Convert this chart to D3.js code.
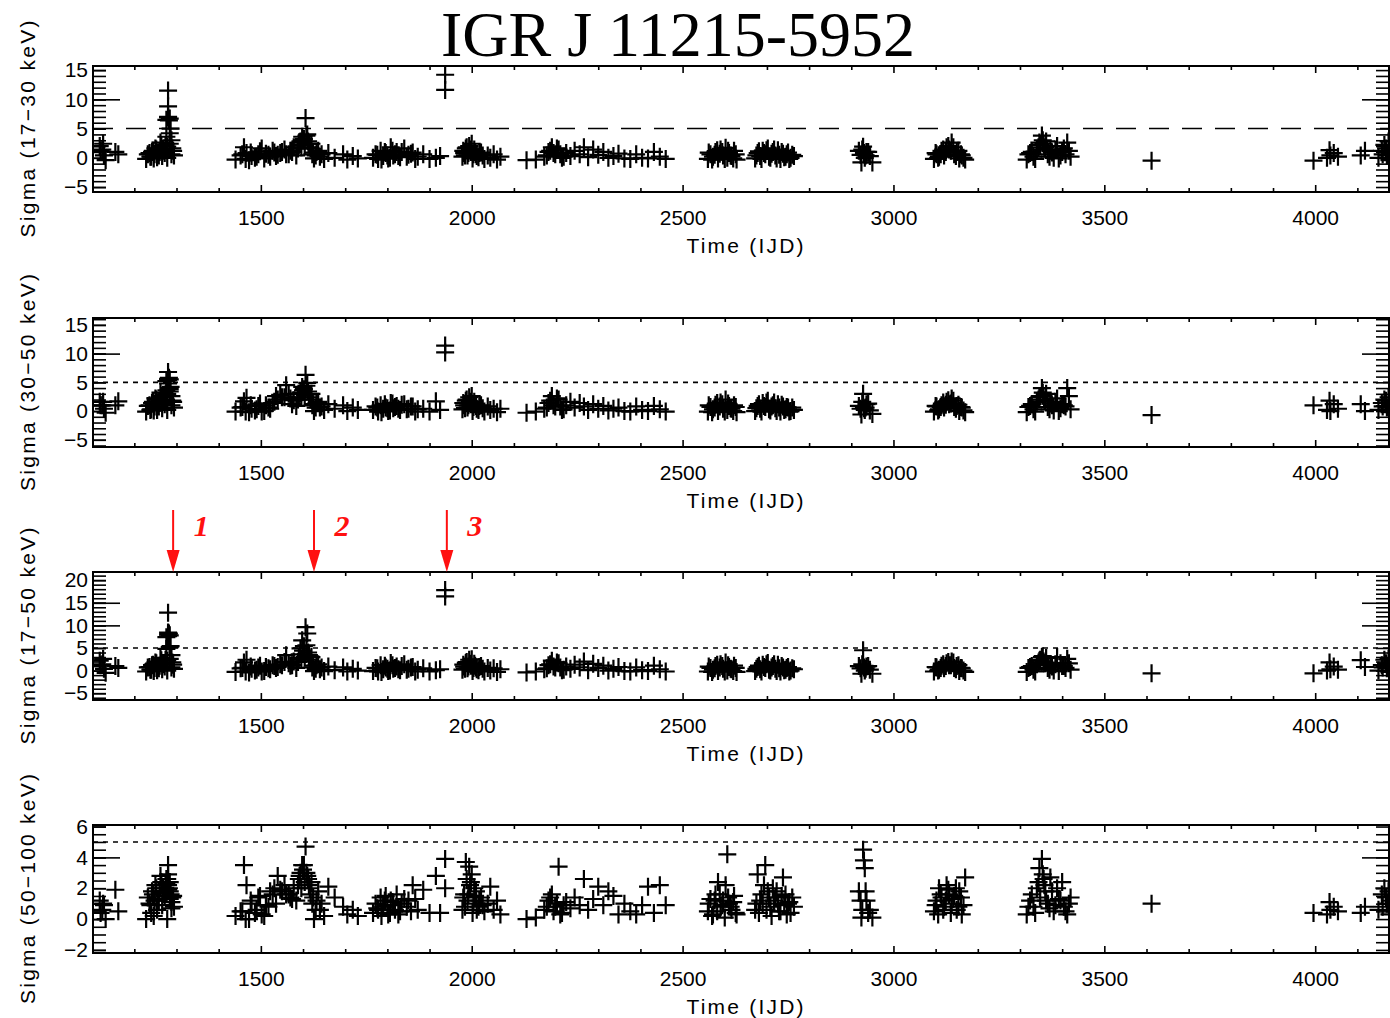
<!DOCTYPE html>
<html>
<head>
<meta charset="utf-8">
<script src="https://cdn.jsdelivr.net/npm/d3@7"></script>
<style>
  body { margin: 0; background: #fff; }
  text { font-family: "Liberation Sans", Arial, sans-serif; }
</style>
</head>
<body>
<svg id="chart" width="1390" height="1018"></svg>
<script>
// ---- data ---------------------------------------------------------------
// observation times (IJD), grouped by visibility window
const ijd = [
  1118,1124,1128,1132,1155,1162,
  1228,1232,1238,1242,1246,1252,1258,1264,1270,1276,1280,1280,1280,1282,1284,1286,1290,1294,1262,1256,1274,1278,
  1440,1452,1460,1466,1472,1478,1486,1494,1502,1512,1522,1532,1540,1550,1560,1570,1578,1584,1590,1594,1598,1602,1606,1610,1614,1618,1622,1626,1632,1640,1650,1660,1675,1695,1705,1718,1730,
  1766,1772,1778,1784,1790,1796,1802,1808,1814,1822,1830,1840,1850,1860,1872,1885,1900,1915,1925,1937,1937,
  1978,1982,1986,1990,1994,1998,2002,2006,2010,2016,2022,2030,2038,2044,2052,2060,2068,
  2130,2152,2172,2182,2190,2198,2206,2214,2224,2234,2244,2256,2266,2276,2288,2300,2312,2324,2336,2348,2362,2376,2390,2404,2418,2432,2446,2460,
  2560,2566,2572,2578,2584,2590,2596,2602,2606,2610,2616,2622,2628,
  2672,2678,2684,2690,2696,2702,2708,2714,2720,2726,2732,2738,2744,2750,2756,2764,
  2918,2924,2928,2930,2932,2936,2944,2950,
  3096,3102,3108,3114,3120,3126,3132,3138,3144,3150,3156,3162,3170,
  3316,3324,3332,3340,3346,3352,3356,3360,3366,3372,3380,3388,3396,3404,3412,3420,
  3612,
  3996,4028,4034,4036,4044,4054,
  4108,4118,4150,4158,4164,4170,4176,4182,
  // further science windows inside the dense groups
  1236,1240,1244,1248,1250,1254,1260,1266,1268,1272,1278,1284,1288,1292,1276,1280,1284,1288,
  1456,1464,1476,1490,1498,1508,1518,1528,1536,1546,1556,1566,1574,1588,1592,1596,1600,1604,1608,1612,1616,1620,1624,1630,1636,1644,
  1776,1786,1794,1800,1806,1812,1818,1826,1834,1846,1856,1866,
  1980,1984,1988,1992,1996,2000,2004,2008,2012,2018,2026,
  2178,2186,2194,2202,2210,2218,
  2562,2570,2576,2582,2588,2594,2600,2608,2614,2620,2626,
  2675,2681,2687,2693,2699,2705,2711,2717,2723,2729,2735,2741,2747,2753,2760,
  3100,3106,3112,3118,3124,3130,3136,3142,3148,3154,3160,3166,
  3320,3328,3336,3344,3348,3354,3358,3362,3370,3376,3384,3392,3400,3408,3416,
  2922,2926,2934,2940,
  4160,4168,4174,
  1120,1126
];

// significance in each band, same order as ijd
const sig17_30 = [
  2.0,1.4,0.4,-0.4,1.0,0.6,
  -0.2,0.6,0.2,1.0,-0.1,1.4,0.4,2.0,1.2,3.6,11.5,8.8,6.9,6.4,6.7,5.0,1.6,0.4,2.6,0.8,2.2,0.0,
  -0.3,0.4,1.8,0.8,-0.4,0.3,0.0,0.6,1.6,0.7,0.2,0.9,0.5,1.0,0.6,1.2,1.8,0.4,2.2,2.8,3.6,3.2,6.8,4.0,2.4,1.6,0.6,-0.1,1.0,0.2,-0.2,0.8,0.0,0.6,-0.3,0.3,-0.1,
  0.0,0.6,-0.2,1.2,0.3,0.8,-0.1,1.8,0.4,1.0,0.1,1.6,0.5,0.9,0.2,0.6,-0.2,0.0,0.3,14.2,11.6,
  0.2,0.8,1.6,0.4,2.0,1.0,-0.1,1.4,0.6,0.1,0.9,-0.2,0.4,0.0,0.6,-0.3,0.2,
  -0.4,-0.3,0.2,1.0,1.8,0.6,1.4,0.0,0.8,0.3,1.2,0.6,1.8,0.1,1.4,0.5,1.0,0.0,0.3,0.7,-0.1,-0.2,0.6,0.0,-0.1,1.0,0.2,-0.2,
  -0.2,0.6,0.2,1.0,-0.1,1.4,0.4,1.7,0.0,0.8,0.3,1.2,-0.3,
  -0.1,0.8,0.3,1.2,0.6,1.6,0.0,1.0,0.4,1.3,-0.2,0.7,0.2,0.9,0.0,0.3,
  1.2,-0.8,1.9,0.8,0.0,1.0,0.3,-0.8,
  -0.2,0.6,0.2,1.2,0.4,1.8,1.4,2.6,0.6,1.0,-0.1,0.4,-0.3,
  -0.3,0.8,0.2,1.4,2.6,3.8,2.4,1.8,0.6,1.2,0.0,2.0,0.4,1.6,2.6,0.2,
  -0.5,
  -0.5,0.0,1.3,0.4,0.8,0.2,
  0.4,1.2,0.0,1.2,2.2,0.4,-0.4,0.8,
  0.8,0.2,1.2,0.6,1.6,0.1,1.0,0.3,1.5,0.8,1.9,2.4,0.6,1.2,6.5,7.0,4.2,3.0,
  0.6,-0.2,0.9,0.2,1.1,-0.1,0.5,1.2,0.3,0.8,1.4,0.6,1.0,1.6,2.6,1.8,3.0,2.2,3.8,2.8,1.8,2.4,0.9,0.4,1.2,0.6,
  0.5,-0.3,1.0,0.4,0.0,1.2,0.6,0.3,1.0,0.2,0.7,-0.2,
  1.2,0.4,1.8,0.8,1.4,2.4,0.6,1.0,0.3,0.8,0.4,
  0.4,1.2,0.8,1.6,0.6,0.2,
  0.9,-0.3,0.5,1.3,0.7,1.0,-0.2,1.2,0.4,-0.1,0.6,
  0.4,1.1,-0.2,0.8,1.3,0.2,0.7,1.4,-0.1,0.5,1.0,0.1,0.6,-0.2,0.5,
  0.8,0.0,0.6,1.4,1.0,2.0,1.2,1.8,0.3,1.2,0.6,0.0,
  0.6,1.0,-0.2,1.8,2.2,3.0,1.6,2.8,0.2,0.9,1.4,-0.1,1.0,0.6,1.2,
  0.5,1.4,0.4,1.0,
  0.6,1.6,2.8,
  1.2,2.4
];
const sig30_50 = [
  1.6,1.0,0.4,-0.3,1.0,1.7,
  -0.1,0.9,0.2,1.4,0.1,2.0,0.8,2.6,2.0,3.6,6.8,5.6,5.4,5.8,5.5,4.2,1.8,0.6,3.2,1.2,2.9,0.2,
  -0.1,0.6,1.7,2.3,-0.2,0.4,0.1,0.9,-0.1,1.0,0.4,1.6,2.0,2.4,4.5,2.2,1.9,0.9,2.4,3.2,4.2,3.8,6.3,4.9,2.9,2.0,1.0,0.0,1.4,0.6,0.2,1.2,0.4,1.0,0.0,0.6,0.2,
  0.2,0.8,-0.1,1.0,0.4,0.6,0.0,1.4,0.5,0.9,0.2,1.2,0.4,0.8,0.3,0.4,-0.1,1.7,0.2,11.4,10.2,
  0.3,1.0,1.8,0.6,2.4,1.2,0.0,1.6,0.9,0.2,1.0,-0.1,0.8,0.2,0.4,-0.2,0.4,
  -0.3,-0.1,0.4,1.4,2.6,0.8,2.0,0.2,1.0,1.6,0.6,1.4,0.8,0.2,1.2,0.4,0.9,0.1,0.4,0.6,0.0,-0.1,0.8,0.2,0.0,0.9,0.3,-0.1,
  -0.1,0.7,0.3,1.1,0.0,1.5,0.4,2.0,0.2,0.9,0.4,1.0,-0.2,
  0.0,0.9,0.4,1.4,0.7,1.8,0.1,1.0,0.5,1.2,-0.1,0.8,0.3,0.6,0.0,0.2,
  0.9,-0.6,3.0,0.5,0.2,1.2,0.1,-0.5,
  -0.1,0.8,0.3,1.0,0.6,1.6,1.2,2.2,0.7,0.9,0.0,0.6,-0.2,
  -0.2,0.9,0.3,1.6,2.4,4.0,2.6,1.9,0.7,1.3,0.1,2.2,0.5,1.0,4.0,0.3,
  -0.7,
  1.0,0.2,1.8,0.0,1.2,0.4,
  1.2,0.0,0.2,1.4,2.0,0.6,-0.2,1.0,
  1.0,0.3,1.6,0.8,2.2,0.2,1.4,0.5,2.4,1.2,3.0,3.4,1.0,1.6,5.2,4.8,3.8,2.6,
  0.7,-0.1,1.0,0.3,1.3,0.0,0.6,1.4,2.6,2.8,2.4,3.0,1.2,2.0,3.0,2.4,3.6,2.8,4.4,3.4,2.4,3.0,1.2,0.6,1.6,0.8,
  0.6,-0.2,1.2,0.5,0.1,1.3,0.7,0.4,1.1,0.3,0.8,-0.1,
  1.4,0.5,2.0,1.0,1.6,2.6,0.7,1.2,0.4,0.9,0.5,
  0.6,1.8,1.0,2.2,0.8,0.3,
  1.0,-0.2,0.6,1.4,0.8,1.2,-0.1,1.3,0.5,0.0,0.7,
  0.5,1.2,-0.1,0.9,1.5,0.3,0.8,1.5,0.0,0.6,1.1,0.2,0.7,-0.1,0.6,
  0.9,0.1,0.7,1.5,1.1,1.9,1.3,1.8,0.4,1.1,0.7,0.1,
  0.7,1.2,-0.1,2.0,2.6,3.2,1.8,3.0,0.3,1.0,1.6,0.0,1.2,0.8,2.6,
  0.4,1.6,0.6,1.3,
  0.8,1.8,2.4,
  1.0,1.6
];
const sig17_50 = [
  2.2,1.4,0.4,-0.5,1.0,0.6,
  -0.2,0.7,0.2,1.2,-0.1,1.6,0.5,2.3,1.4,4.8,12.8,8.0,7.6,8.2,7.8,5.4,1.8,0.4,2.8,0.9,2.4,0.0,
  -0.3,0.5,1.8,2.4,-0.4,0.4,0.0,0.7,-0.2,0.8,0.3,1.0,0.8,1.2,3.4,1.1,2.0,0.6,2.8,4.9,6.7,5.4,9.6,8.2,3.4,2.0,0.7,-0.1,1.2,0.3,-0.1,0.9,0.1,0.7,-0.2,0.4,0.0,
  -0.1,0.6,-0.2,1.2,0.3,0.7,-0.1,1.7,0.4,0.9,0.1,1.4,0.4,0.8,0.2,0.5,-0.2,0.1,0.3,17.8,16.4,
  0.2,0.9,1.7,0.5,2.4,1.1,-0.1,1.5,0.7,0.1,1.0,-0.2,0.6,0.0,0.5,-0.3,0.3,
  -0.4,-0.2,0.3,1.2,2.2,0.7,1.6,0.1,0.9,0.4,1.3,0.7,2.0,0.1,1.5,0.6,1.1,0.0,0.4,0.8,-0.1,-0.2,0.7,0.1,-0.1,1.1,0.3,-0.2,
  -0.2,0.6,0.2,1.0,-0.1,1.4,0.4,1.8,0.0,0.8,0.3,1.1,-0.3,
  -0.1,0.8,0.3,1.3,0.6,1.7,0.0,1.0,0.4,1.3,-0.2,0.7,0.2,0.8,0.0,0.3,
  1.0,-0.7,4.5,0.7,0.0,0.9,0.2,-0.7,
  -0.2,0.7,0.2,1.1,0.5,1.6,1.2,2.0,0.6,1.0,-0.1,0.5,-0.3,
  -0.3,0.8,0.2,1.4,2.2,3.0,2.0,1.6,0.6,1.2,0.0,3.0,1.6,1.0,2.6,0.2,
  -0.6,
  -0.6,0.0,1.8,0.3,0.9,0.2,
  2.3,0.8,0.0,1.2,2.4,0.5,-0.3,0.9,
  0.8,0.2,1.3,0.6,1.8,0.1,1.1,0.3,1.7,0.9,2.2,2.6,0.7,1.3,7.4,8.4,5.2,3.4,
  0.6,-0.2,0.9,0.2,1.1,-0.1,0.5,1.2,0.6,1.4,1.9,1.6,1.2,1.9,3.6,2.4,4.4,3.0,5.6,4.0,2.4,3.0,1.1,0.4,1.4,0.7,
  0.5,-0.3,1.1,0.4,0.0,1.2,0.6,0.3,1.0,0.2,0.7,-0.2,
  1.3,0.4,1.9,0.9,1.5,2.5,0.6,1.1,0.3,0.8,0.4,
  0.5,1.4,0.9,1.8,0.7,0.2,
  0.9,-0.3,0.5,1.3,0.7,1.0,-0.2,1.2,0.4,-0.1,0.6,
  0.4,1.1,-0.2,0.8,1.4,0.2,0.7,1.4,-0.1,0.5,1.0,0.1,0.6,-0.2,0.5,
  0.8,0.0,0.6,1.4,1.0,1.9,1.2,1.8,0.3,1.2,0.6,0.0,
  0.6,1.0,-0.2,1.8,2.4,3.2,1.6,2.8,0.2,0.9,1.4,-0.1,1.0,0.6,1.6,
  0.5,1.4,0.4,1.0,
  0.7,1.6,2.6,
  1.2,2.6
];
const sig50_100 = [
  1.2,0.6,0.9,0.0,1.9,0.5,
  0.0,1.4,0.9,1.8,0.2,2.0,1.2,2.4,1.7,2.6,3.5,2.9,2.2,2.0,2.4,1.6,1.4,0.8,2.8,1.3,2.2,0.0,
  0.2,0.5,3.5,2.2,0.0,1.0,0.4,1.4,0.3,0.9,1.8,2.0,2.8,1.8,1.6,1.4,2.0,1.2,2.6,3.0,3.5,3.5,4.7,2.8,2.2,1.6,1.0,0.0,1.2,0.6,0.2,2.1,1.4,0.8,0.3,0.6,0.2,
  0.4,1.0,0.6,1.4,0.8,1.5,0.3,1.2,0.9,1.6,0.5,1.3,1.2,2.2,0.6,1.9,0.4,2.8,0.4,3.9,2.0,
  0.6,1.6,3.7,1.2,3.4,2.4,0.4,2.0,1.8,0.8,1.4,0.5,1.0,2.1,0.6,1.2,0.3,
  0.0,0.1,0.6,1.2,1.6,0.8,3.4,0.4,1.1,0.7,1.4,0.9,2.6,0.6,1.3,2.1,0.9,1.8,1.5,0.3,1.0,0.5,0.3,0.9,2.1,0.4,2.2,0.9,
  0.5,1.3,0.3,1.6,2.4,0.8,1.2,2.2,4.2,1.0,0.6,1.5,0.3,
  0.6,2.9,1.2,1.0,3.5,1.8,0.8,2.0,1.4,1.0,0.5,2.7,1.6,1.0,0.4,0.8,
  1.8,0.1,4.5,3.8,3.3,1.2,0.6,0.1,
  0.5,1.2,2.0,1.4,0.8,2.2,1.6,1.0,1.5,0.6,1.8,0.3,2.7,
  0.3,1.2,0.8,2.0,3.3,3.9,2.6,1.8,1.0,2.7,0.5,2.0,1.2,0.8,0.3,1.4,
  1.0,
  0.4,0.3,1.1,0.6,0.8,0.5,
  0.4,0.8,0.6,1.6,2.0,1.0,0.3,1.2,
  1.0,0.4,1.6,1.2,2.2,0.6,1.8,0.9,2.0,1.5,2.6,1.8,1.1,1.5,2.3,1.9,1.3,0.7,
  0.5,0.0,1.2,0.6,1.5,0.2,0.8,1.6,1.0,1.9,2.2,1.6,1.3,2.2,2.8,2.0,3.2,2.4,3.0,2.6,2.0,2.4,1.4,0.6,1.8,1.0,
  0.7,0.2,1.2,0.9,0.4,1.1,0.6,0.3,1.0,0.8,0.5,1.3,
  1.4,0.8,2.6,1.6,2.2,2.9,1.0,1.5,0.6,1.2,0.9,
  0.8,1.4,0.5,1.0,0.3,0.9,
  1.0,0.2,1.2,0.5,1.6,0.9,0.1,1.4,0.8,1.1,0.4,
  1.0,0.4,1.6,2.2,0.6,1.4,0.2,1.2,1.8,0.5,1.5,0.9,0.3,1.1,1.4,
  0.9,0.3,1.6,0.6,1.2,1.9,0.4,1.3,2.0,0.8,1.4,0.9,
  0.8,1.6,0.4,2.4,1.4,2.9,2.2,1.2,0.7,1.8,0.9,1.3,2.4,0.5,1.0,
  1.2,0.6,1.8,0.4,
  0.8,1.4,1.8,
  0.4,1.0
];

const bandSeries = [sig17_30, sig30_50, sig17_50, sig50_100];
const bandNames = ["Sigma (17\u221230 keV)", "Sigma (30\u221250 keV)", "Sigma (17\u221250 keV)", "Sigma (50\u2212100 keV)"];
const yRanges = [[-5.85, 15.7], [-6.26, 16.2], [-6.5, 21.8], [-2.2, 6.1]];
const yLabelTicks = [[-5, 0, 5, 10, 15], [-5, 0, 5, 10, 15], [-5, 0, 5, 10, 15, 20], [-2, 0, 2, 4, 6]];
const yMinorStep = [1, 1, 1, 0.5];
const yLongTicks = [[10], [10], [10, 15], [4]];
const threshold = [5, 5, 5, 5];
const xRange = [1102, 4175];
const xMajor = [1500, 2000, 2500, 3000, 3500, 4000];
const xMinor = [1200, 1300, 1400, 1600, 1700, 1800, 1900, 2100, 2200, 2300, 2400, 2600, 2700, 2800, 2900,
                3100, 3200, 3300, 3400, 3600, 3700, 3800, 3900, 4100];
const flareIJD = [1292, 1626, 1941];
const flareNames = ["1", "2", "3"];

// ---- layout ----------------------------------------------------------------
const svg = d3.select("#chart");
const left = 93, right = 1389;
const panelTop = [66, 318, 572, 825];
const panelH = [126, 129, 128, 128];

const x = d3.scaleLinear().domain(xRange).range([left, right]);

svg.append("text")
  .attr("x", 678).attr("y", 56)
  .attr("text-anchor", "middle")
  .attr("textLength", 474)
  .style("font-family", "'Liberation Serif', 'Times New Roman', serif")
  .style("font-size", "64px")
  .style("fill", "#000")
  .text("IGR J 11215-5952");

function styleAxis(sel) {
  sel.select(".domain").remove();
  sel.selectAll(".tick line").attr("stroke", "#000").attr("stroke-width", 1.6);
  sel.selectAll(".tick text").style("font-size", "21px").style("fill", "#000");
}

bandSeries.forEach((vals, i) => {
  const top = panelTop[i], bottom = top + panelH[i];
  const y = d3.scaleLinear().domain(yRanges[i]).range([bottom, top]);
  const g = svg.append("g");

  // x axes (bottom with labels, top without)
  g.append("g").attr("transform", `translate(0,${bottom})`)
    .call(d3.axisBottom(x).tickValues(xMajor).tickSizeInner(-7).tickSizeOuter(0)
      .tickPadding(18).tickFormat(d3.format("d")))
    .call(styleAxis);
  g.append("g").attr("transform", `translate(0,${bottom})`)
    .call(d3.axisBottom(x).tickValues(xMinor).tickSizeInner(-4).tickSizeOuter(0).tickFormat(""))
    .call(styleAxis);
  g.append("g").attr("transform", `translate(0,${top})`)
    .call(d3.axisTop(x).tickValues(xMajor).tickSizeInner(-7).tickSizeOuter(0).tickFormat(""))
    .call(styleAxis);
  g.append("g").attr("transform", `translate(0,${top})`)
    .call(d3.axisTop(x).tickValues(xMinor).tickSizeInner(-4).tickSizeOuter(0).tickFormat(""))
    .call(styleAxis);

  // y axes
  const lo = yRanges[i][0], hi = yRanges[i][1], st = yMinorStep[i];
  const minorVals = d3.range(Math.ceil(lo / st) * st, hi, st);
  g.append("g").attr("transform", `translate(${left},0)`)
    .call(d3.axisLeft(y).tickValues(yLabelTicks[i]).tickSizeInner(-13).tickSizeOuter(0)
      .tickPadding(5).tickFormat(d3.format("d")))
    .call(styleAxis);
  [[left, d3.axisLeft], [right, d3.axisRight]].forEach(([px, ax]) => {
    g.append("g").attr("transform", `translate(${px},0)`)
      .call(ax(y).tickValues(minorVals).tickSizeInner(-13).tickSizeOuter(0).tickFormat(""))
      .call(styleAxis);
    g.append("g").attr("transform", `translate(${px},0)`)
      .call(ax(y).tickValues(yLongTicks[i]).tickSizeInner(-27).tickSizeOuter(0).tickFormat(""))
      .call(styleAxis);
  });

  // frame
  g.append("rect")
    .attr("x", left).attr("y", top)
    .attr("width", right - left).attr("height", bottom - top)
    .attr("fill", "none").attr("stroke", "#000").attr("stroke-width", 2);

  // 5 sigma line
  g.append("line")
    .attr("x1", left).attr("x2", right)
    .attr("y1", y(threshold[i])).attr("y2", y(threshold[i]))
    .attr("stroke", "#000").attr("stroke-width", 1.6)
    .attr("stroke-dasharray", i === 0 ? "20,13" : "5,5");

  // data: plus symbols
  const clipId = "clip" + i;
  svg.append("clipPath").attr("id", clipId)
    .append("rect").attr("x", left).attr("y", top)
    .attr("width", right - left).attr("height", bottom - top);
  g.append("g").attr("clip-path", `url(#${clipId})`)
    .selectAll("path")
    .data(ijd.map((t, k) => ({ t: t, v: vals[k] })))
    .join("path")
    .attr("d", d => {
      const cx = x(d.t), cy = y(d.v);
      return `M${cx - 9},${cy}h18M${cx},${cy - 9}v18`;
    })
    .attr("stroke", "#000").attr("stroke-width", 2.2).attr("fill", "none");

  // axis titles
  g.append("text")
    .attr("x", 745).attr("y", bottom + 53)
    .attr("text-anchor", "middle").attr("dominant-baseline", "central")
    .attr("textLength", 117)
    .style("font-size", "21px").style("fill", "#000")
    .text("Time (IJD)");
  const ymid = (top + bottom) / 2;
  g.append("text")
    .attr("transform", `translate(27,${ymid}) rotate(-90)`)
    .attr("text-anchor", "middle").attr("dominant-baseline", "central")
    .attr("textLength", i === 3 ? 230 : 217)
    .style("font-size", "21px").style("fill", "#000")
    .text(bandNames[i]);
});

// flare markers above the 17-50 keV panel
const arrows = svg.append("g").selectAll("g").data(flareIJD).join("g");
arrows.append("line")
  .attr("x1", d => x(d)).attr("x2", d => x(d))
  .attr("y1", 510).attr("y2", 555)
  .attr("stroke", "#ff1010").attr("stroke-width", 2);
arrows.append("path")
  .attr("d", d => `M${x(d) - 6.5},550L${x(d) + 6.5},550L${x(d)},572Z`)
  .attr("fill", "#ff1010");
arrows.append("text")
  .attr("x", d => x(d) + 28).attr("y", 525)
  .attr("text-anchor", "middle").attr("dominant-baseline", "central")
  .style("font-family", "'Liberation Serif', 'Times New Roman', serif")
  .style("font-size", "30px").style("font-weight", "bold").style("font-style", "italic")
  .style("fill", "#ff1010")
  .text((d, k) => flareNames[k]);
</script>
</body>
</html>
